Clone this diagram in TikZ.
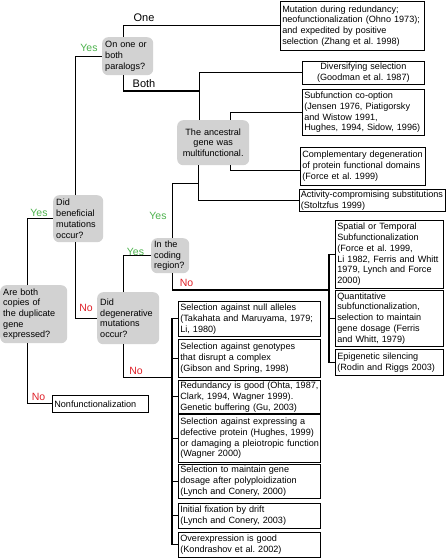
\documentclass[tikz,border=0pt]{standalone}
\usepackage{fontspec}
\setmainfont{Liberation Sans}
\usepackage{xcolor}
\usepackage{tikz}
\usetikzlibrary{calc}

\definecolor{grigio}{RGB}{210,210,210}
\definecolor{verde}{RGB}{76,178,76}
\definecolor{rosso}{RGB}{222,32,40}

\begin{document}
\frenchspacing
\begin{tikzpicture}[x=1pt, y=-1pt,
        domanda/.style={fill=grigio, rounded corners=6pt, inner xsep=3pt, inner ysep=1pt, align=left, anchor=north west, font=\fontsize{9.1}{10.7}\selectfont},
        esito/.style={draw, line width=0.7pt, inner xsep=2pt, inner ysep=1pt, align=left, anchor=north west, font=\fontsize{9.1}{10.8}\selectfont},
        ramo/.style={line width=1.2pt},
        si/.style={text=verde, font=\fontsize{10.5}{12}\selectfont},
        no/.style={text=rosso, font=\fontsize{10.5}{12}\selectfont},
        quanti/.style={font=\fontsize{11}{13}\selectfont}]
        % Area del disegno
        \useasboundingbox (0,0) rectangle (446,559);
        
        % Domande (riquadri grigi)
        \node[domanda, text width=61pt, minimum height=58pt] (copie) at (0,285) {Are both\\copies of\\the duplicate\\gene\\expressed?};
        \node[domanda, text width=44pt, minimum height=47pt] (benefiche) at (53,195) {Did\\beneficial\\mutations\\occur?};
        \node[domanda, text width=56pt, minimum height=52pt] (degenerative) at (97,292) {Did\\degenerative\\mutations\\occur?};
        \node[domanda, text width=32pt, minimum height=35pt] (codifica) at (151,238) {In the\\coding\\region?};
        \node[domanda, text width=45pt, minimum height=38pt] (paraloghi) at (102,37) {On one or\\both\\paralogs?};
        \node[domanda, text width=66pt, minimum height=45pt, align=center] (ancestrale) at (177,120) {The ancestral\\gene was\\multifunctional.};
        
        % Esiti in alto a destra
        \node[esito, text width=140pt, minimum height=49pt] (mutazione) at (280,1) {Mutation during redundancy;\\neofunctionalization (Ohno 1973);\\and expedited by positive\\selection (Zhang et al. 1998)};
        \node[esito, text width=118pt, minimum height=23pt, align=center] (diversificante) at (302,61) {Diversifying selection\\(Goodman et al. 1987)};
        \node[esito, text width=118pt, minimum height=46pt] (cooptazione) at (302,89) {Subfunction co-option\\(Jensen 1976, Piatigorsky\\and Wistow 1991,\\Hughes, 1994, Sidow, 1996)};
        \node[esito, text width=121pt, minimum height=38pt] (complementare) at (300,147) {\mbox{Complementary degeneration}\\of protein functional domains\\(Force et al. 1999)};
        \node[esito, text width=143pt, inner xsep=1.5pt, minimum height=22pt] (attivita) at (299,189) {\mbox{Activity-compromising substitutions}\\(Stoltzfus 1999)};
        
        % Esiti fuori dalla regione codificante
        \node[esito, text width=104pt, minimum height=68pt] (spaziale) at (335,220) {Spatial or Temporal\\Subfunctionalization\\(Force et al. 1999,\\Li 1982, Ferris and Whitt\\1979, Lynch and Force\\2000)};
        \node[esito, text width=104pt, minimum height=56pt] (quantitativa) at (335,290) {Quantitative\\subfunctionalization,\\selection to maintain\\gene dosage (Ferris\\and Whitt, 1979)};
        \node[esito, text width=104pt, minimum height=26pt] (epigenetica) at (335,349) {Epigenetic silencing\\(Rodin and Riggs 2003)};
        
        % Esiti senza mutazioni degenerative
        \node[esito, text width=138pt, minimum height=35pt] (nulli) at (178,301) {Selection against null alleles\\(Takahata and Maruyama, 1979;\\Li, 1980)};
        \node[esito, text width=138pt, minimum height=38pt] (genotipi) at (178,339) {Selection against genotypes\\that disrupt a complex\\(Gibson and Spring, 1998)};
        \node[esito, text width=138pt, minimum height=33pt] (ridondanza) at (178,380) {\mbox{Redundancy is good (Ohta, 1987,}\\Clark, 1994, Wagner 1999).\\Genetic buffering (Gu, 2003)};
        \node[esito, text width=138pt, minimum height=48pt] (difettosa) at (178,414) {Selection against expressing a\\defective protein (Hughes, 1999)\\\mbox{or damaging a pleiotropic function}\\(Wagner 2000)};
        \node[esito, text width=138pt, minimum height=34pt] (dosaggio) at (178,464) {Selection to maintain gene\\dosage after polyploidization\\(Lynch and Conery, 2000)};
        \node[esito, text width=138pt, minimum height=25pt] (deriva) at (178,503) {Initial fixation by drift\\(Lynch and Conery, 2003)};
        \node[esito, text width=138pt, minimum height=25pt] (sovraespressione) at (178,532) {Overexpression is good\\(Kondrashov et al. 2002)};
        
        \node[esito, text width=92pt, minimum height=17pt] (nonfunz) at (52,395) {Nonfunctionalization};
        
        % Rami della prima domanda
        \draw[ramo] ([xshift=-6.5pt]copie.north) |- (benefiche.west);
        \draw[ramo] ([xshift=-6.5pt]copie.south) |- (nonfunz.west);
        \node[si] (si1) at (39,213) {Yes};
        \node[no] (no1) at (38.5,397) {No};
        
        % Mutazioni benefiche
        \draw[ramo] ([xshift=-3pt]benefiche.north) |- (paraloghi.west);
        \draw[ramo] ([xshift=-3pt]benefiche.south) |- (degenerative.west);
        \node[si] (si2) at (89,48) {Yes};
        \node[no] (no2) at (86,308) {No};
        
        % Uno o entrambi i paraloghi
        \coordinate (entrambi) at (199,91);
        \draw[ramo] ([xshift=-4.5pt]paraloghi.north) |- (mutazione.west);
        \draw[ramo] ([xshift=-4.5pt]paraloghi.south) |- (entrambi);
        \node[quanti] (uno) at (144,18) {One};
        \node[quanti] (due) at (144,84) {Both};
        
        % Gene ancestrale multifunzionale
        \draw[ramo] ([xshift=-14pt]ancestrale.north) |- (diversificante.west);
        \draw[ramo] ([xshift=17pt]ancestrale.north) |- (cooptazione.west);
        \draw[ramo] ([xshift=17pt]ancestrale.south) |- ([yshift=-4pt]complementare.west);
        \draw[ramo] ([xshift=-15pt]ancestrale.south) |- (attivita.west);
        \draw[ramo] ([xshift=2pt]codifica.north) |- ([xshift=-15pt,yshift=-18pt]ancestrale.south);
        \node[si] (si4) at (158,216) {Yes};
        
        % Mutazioni degenerative
        \draw[ramo] ([xshift=-5pt]degenerative.north) |- (codifica.west);
        \draw[ramo] ([xshift=-5pt]degenerative.south) |- ([xshift=-6pt]genotipi.south west);
        \node[si] (si3) at (135.5,252) {Yes};
        
        % Graffa degli esiti senza mutazioni
        \draw[ramo] (nulli.west) -- ++(-6,0) |- (sovraespressione.west);
        \foreach \e in {genotipi,ridondanza,difettosa,dosaggio,deriva} {
            \draw[ramo] (\e.west) -- ++(-6,0);
        }
        \node[no] (no4) at (136,371) {No};
        
        % Regione non codificante
        \draw[ramo] ([xshift=2pt]codifica.south) |- ([xshift=-6pt]quantitativa.north west);
        \draw[ramo] (spaziale.west) -- ++(-6,0) |- (epigenetica.west);
        \draw[ramo] (quantitativa.west) -- ++(-6,0);
        \node[no] (no3) at (186.5,283) {No};
        
    \end{tikzpicture}
\end{document}
